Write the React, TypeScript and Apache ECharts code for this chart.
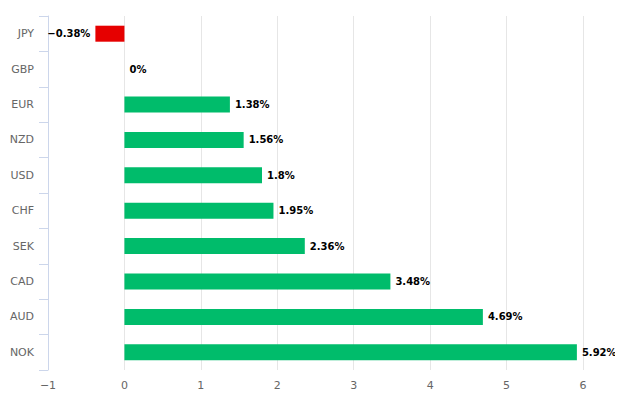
import React, { useEffect, useRef } from "react";
import * as echarts from "echarts";

const categories = ["JPY", "GBP", "EUR", "NZD", "USD", "CHF", "SEK", "CAD", "AUD", "NOK"];
const values = [-0.38, 0, 1.38, 1.56, 1.8, 1.95, 2.36, 3.48, 4.69, 5.92];
const xTicks = { min: -1, max: 6, interval: 1 };

const POS = "#00bc6b";
const NEG = "#e60000";

const fmtMinus = (s: string) => s.replace("-", "\u2212");

export default function App() {
  const ref = useRef<HTMLDivElement>(null);
  useEffect(() => {
    if (!ref.current) return;
    const chart = echarts.init(ref.current, undefined, { renderer: "svg" });
    chart.setOption({
      animation: false,
      grid: { left: 48, right: 40, top: 16, bottom: 35, containLabel: false },
      xAxis: {
        type: "value",
        min: xTicks.min,
        max: xTicks.max,
        interval: xTicks.interval,
        axisLine: { show: false },
        axisTick: { show: false },
        splitLine: { lineStyle: { color: "#e6e6e6", width: 1 } },
        axisLabel: {
          color: "#666666",
          fontSize: 11,
          fontFamily: "DejaVu Sans",
          margin: 10,
          formatter: (v: number) => fmtMinus(String(v)),
        },
      },
      yAxis: {
        type: "category",
        data: categories,
        inverse: true,
        axisLine: { show: true, onZero: false, lineStyle: { color: "#ccd6eb", width: 1 } },
        axisTick: { show: true, length: 9, lineStyle: { color: "#ccd6eb" } },
        axisLabel: {
          color: "#666666",
          fontSize: 11,
          fontFamily: "DejaVu Sans",
          margin: 14,
        },
        splitLine: { show: false },
      },
      series: [
        {
          type: "bar",
          barWidth: 16,
          data: values.map((v) => ({
            value: v,
            itemStyle: { color: v < 0 ? NEG : POS },
            label: {
              show: true,
              position: v < 0 ? "left" : "right",
              distance: 5,
              formatter: () => fmtMinus(String(v)) + "%",
              color: "#000000",
              fontSize: 10,
              fontWeight: "bold",
              fontFamily: "DejaVu Sans",
              ...(v === 0 ? { backgroundColor: "#ffffff", padding: [4, 0, 4, 0] } : {}),
            },
          })),
        },
      ],
    });
    return () => chart.dispose();
  }, []);
  return <div ref={ref} style={{ width: 623, height: 405, margin: -8 }} />;
}
